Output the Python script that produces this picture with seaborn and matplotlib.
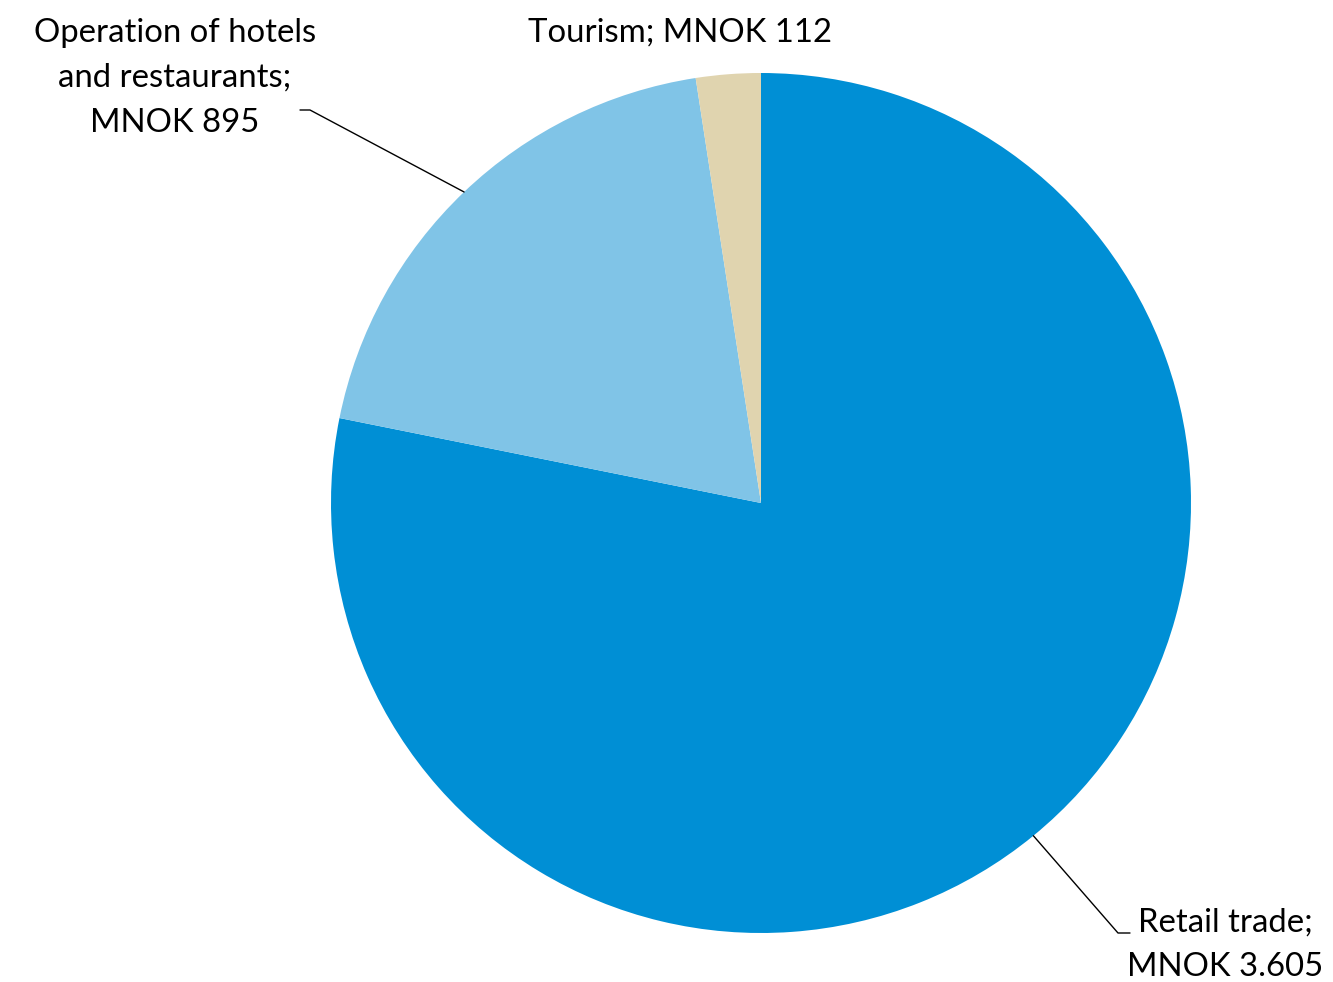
import numpy as np
import matplotlib
matplotlib.use("Agg")
import matplotlib.pyplot as plt
import seaborn as sns

# Revenue by sector (MNOK)
sectors = ["Retail trade", "Operation of hotels\nand restaurants", "Tourism"]
values = [3605, 895, 112]
value_labels = ["MNOK 3.605", "MNOK 895", "MNOK 112"]
colors = ["#008FD5", "#80C4E7", "#E0D4AF"]

sns.set_theme(style="white")
plt.rcParams["font.family"] = ["Lato", "DejaVu Sans"]

W, H = 1333, 982
fig = plt.figure(figsize=(W / 100, H / 100), dpi=100)
ax = fig.add_axes([0, 0, 1, 1])

cx, cy, r = 761, H - 503, 430
wedges, _ = ax.pie(values, colors=colors, startangle=90, counterclock=False,
                   center=(cx, cy), radius=r, frame=True,
                   wedgeprops=dict(linewidth=0))
ax.set_xlim(0, W)
ax.set_ylim(0, H)
ax.set_aspect("equal")
ax.axis("off")

fs = 23.7
ls = 1.62


def edge_point(w):
    mid = np.deg2rad((w.theta1 + w.theta2) / 2)
    return cx + r * np.cos(mid), cy + r * np.sin(mid)


# Retail trade: label lower right with leader line
ex, ey = edge_point(wedges[0])
ax.plot([ex, 1118, 1130], [ey, H - 933, H - 933], color="black", lw=1)
ax.text(1225, H - 945, f"{sectors[0]};\n{value_labels[0]}", ha="center", va="center",
        fontsize=fs, linespacing=ls, color="black")

# Hotels and restaurants: label upper left with leader line
ex, ey = edge_point(wedges[1])
ax.plot([ex, 310, 300], [ey, H - 110, H - 110], color="black", lw=1)
ax.text(175, H - 78, f"{sectors[1]};\n{value_labels[1]}", ha="center", va="center",
        fontsize=fs, linespacing=ls, color="black")

# Tourism: label above the pie
ax.text(680, H - 33, f"{sectors[2]}; {value_labels[2]}", ha="center", va="center",
        fontsize=fs, color="black")

fig.savefig("out.png", dpi=100, facecolor="white")
